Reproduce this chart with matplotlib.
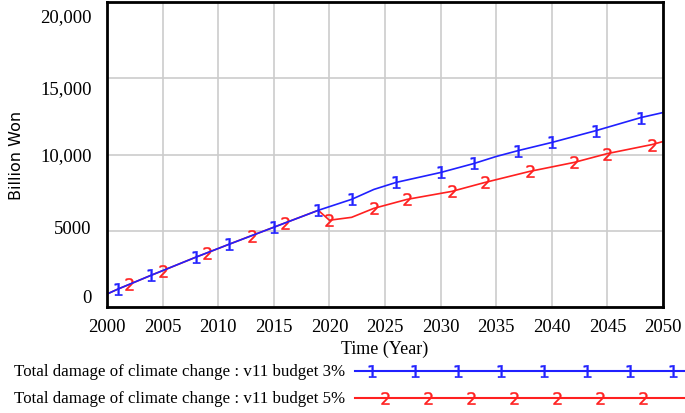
import matplotlib
matplotlib.use("Agg")
import matplotlib.pyplot as plt
import matplotlib.transforms as mtransforms
import numpy as np

# Vensim run: Total damage of climate change (Billion Won)
years_3 = [2000, 2001, 2004, 2008, 2011, 2015, 2019, 2022, 2024, 2026,
           2030, 2033, 2035, 2037, 2040, 2044, 2048, 2050]
damage_3 = [850, 1180, 2090, 3270, 4120, 5230, 6340, 7060, 7710, 8170,
            8820, 9410, 9870, 10260, 10790, 11570, 12420, 12750]
marks_3 = [2001, 2004, 2008, 2011, 2015, 2019, 2022, 2026, 2030, 2033,
           2037, 2040, 2044, 2048]

years_5 = [2000, 2001, 2002, 2004, 2005, 2008, 2009, 2011, 2013, 2015, 2016,
           2019, 2020, 2022, 2024, 2027, 2031, 2034, 2038, 2042, 2045, 2049, 2050]
damage_5 = [850, 1180, 1480, 2090, 2380, 3270, 3550, 4120, 4680, 5230, 5510,
            6340, 5690, 5880, 6470, 7060, 7580, 8170, 8890, 9480, 10060, 10650, 10850]
marks_5 = [2002, 2005, 2009, 2013, 2016, 2020, 2024, 2027, 2031, 2034,
           2038, 2042, 2045, 2049]

x_ticks = list(range(2000, 2051, 5))
y_ticks = [0, 5000, 10000, 15000, 20000]
y_labels = ["0", "5000", "10,000", "15,000", "20,000"]

label_3 = "Total damage of climate change : v11 budget 3%"
label_5 = "Total damage of climate change : v11 budget 5%"

BLUE = "#2020ff"
RED = "#ff2020"
serif = "Liberation Serif"

fig = plt.figure(figsize=(6.85, 4.14), dpi=100)
ax = fig.add_axes([107/685, 106/414, 556/685, 305/414])

ax.plot(years_5, damage_5, color=RED, lw=1.2, marker="$2$", ms=9,
        markevery=[years_5.index(y) for y in marks_5], mew=0.3)
ax.plot(years_3, damage_3, color=BLUE, lw=1.2, marker="$1$", ms=9,
        markevery=[years_3.index(y) for y in marks_3], mew=0.3)

ax.set_xlim(2000, 2050)
ax.set_ylim(0, 20000)
ax.set_xticks(x_ticks)
ax.set_yticks(y_ticks)
ax.set_yticklabels(y_labels)
ax.grid(True, color="#cccccc", lw=1.2)
ax.set_axisbelow(True)
ax.tick_params(length=0, labelsize=13.5, pad=8)
ax.tick_params(axis="y", pad=11)
for lab in ax.get_xticklabels() + ax.get_yticklabels():
    lab.set_fontfamily(serif)
for sp in ax.spines.values():
    sp.set_linewidth(2)

# vensim spreads the y labels evenly inside the frame
shifts = [11, 4, 1, -8, -13]
for lab, dy in zip(ax.get_yticklabels(), shifts):
    lab.set_transform(lab.get_transform() +
                      mtransforms.ScaledTranslation(0, dy/100, fig.dpi_scale_trans))

ax.set_xlabel("Time (Year)", fontfamily=serif, fontsize=13, labelpad=3)
ax.set_ylabel("Billion Won", fontsize=11.5, labelpad=12)

# legend strip under the plot
lg = fig.add_axes([0, 0, 1, 60/414])
lg.set_xlim(0, 685)
lg.set_ylim(60, 0)
lg.axis("off")
lg.text(345, 18, label_3, ha="right", va="center", fontfamily=serif, fontsize=12.2)
lg.text(345, 45, label_5, ha="right", va="center", fontfamily=serif, fontsize=12.2)
lg.plot([355, 684], [18, 18], color=BLUE, lw=1.5)
lg.plot([355, 684], [45, 45], color=RED, lw=1.5)
lg.plot(np.arange(372, 684, 43), [18]*8, ls="none", color=BLUE,
        marker="$1$", ms=9, mew=0.3)
lg.plot(np.arange(385, 650, 43), [45]*7, ls="none", color=RED,
        marker="$2$", ms=9, mew=0.3)

fig.savefig("out.png", dpi=100)
